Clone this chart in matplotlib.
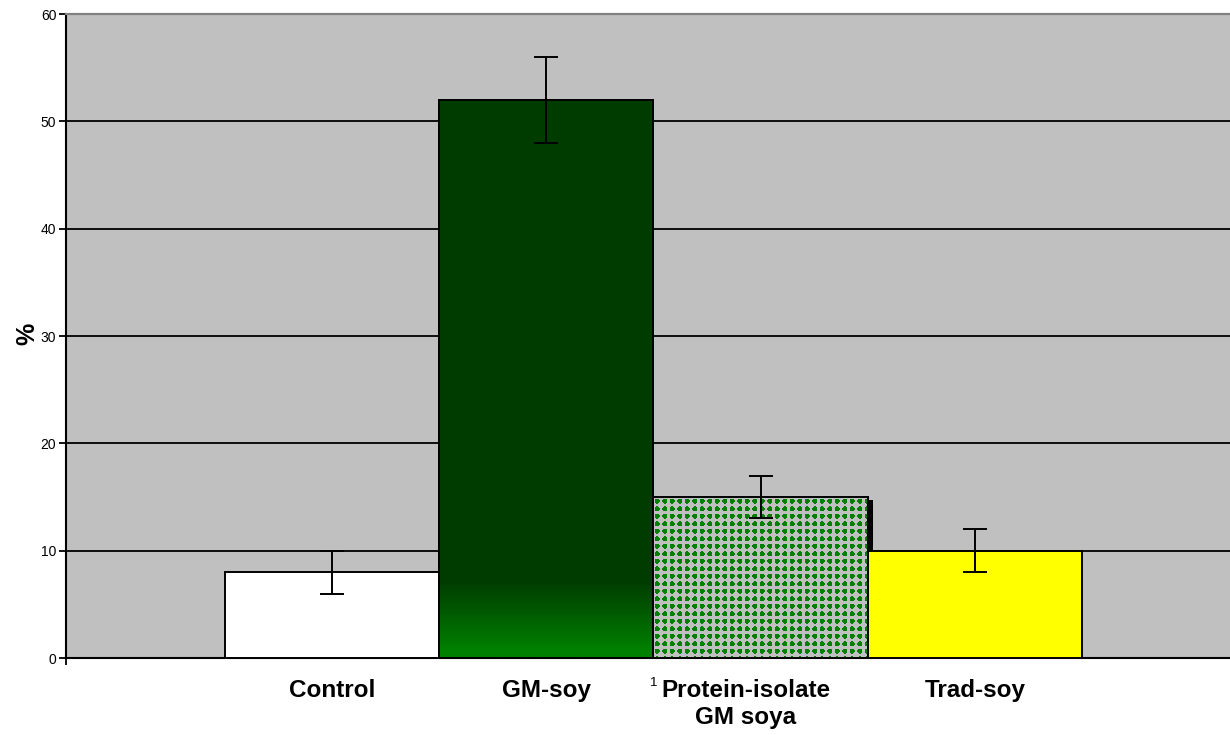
import numpy as np
import matplotlib
matplotlib.use("Agg")
import matplotlib.pyplot as plt
import matplotlib.patheffects as pe
from matplotlib.colors import LinearSegmentedColormap

plt.rcParams['font.family'] = ['Liberation Sans', 'DejaVu Sans']

# Data
groups = ["Control", "GM-soy", "Protein-isolate\nGM soya", "Trad-soy"]
values = [8, 52, 15, 10]
errors = [2, 4, 2, 2]
category = ["1"]

fig = plt.figure(figsize=(12.3, 7.35), dpi=100)
ax = fig.add_axes([66 / 1230, 77 / 735, 1164 / 1230, 644 / 735])
ax.set_facecolor("#C0C0C0")

# one category with four adjacent bars
pos = np.arange(len(values)) - (len(values) - 1) / 2
face = ["white", "#003C00", "#C0C0C0", "#FFFF00"]
bars = ax.bar(pos, values, width=1.0, color=face, edgecolor="black",
              linewidth=1.4, zorder=3)

ax.set_xlim(-2.742, 2.691)
ax.set_ylim(0, 60)

# shadow on the protein-isolate bar
bars[2].set_path_effects([pe.SimplePatchShadow(offset=(4, -2), shadow_rgbFace="black",
                                               alpha=1.0), pe.Normal()])
bars[3].set_zorder(3.5)

# gradient fill for GM-soy
gm = bars[1]
x0, w, h = gm.get_x(), gm.get_width(), gm.get_height()
yy = np.linspace(h, 0, 300)
grad = np.clip((7.0 - yy) / 6.3, 0, 1)[:, None]
cmap = LinearSegmentedColormap.from_list("g", ["#003C00", "#008000"])
im = ax.imshow(grad, extent=(x0, x0 + w, 0, h), aspect="auto", cmap=cmap,
               vmin=0, vmax=1, zorder=3.2, interpolation="bilinear")
im.set_clip_path(gm)
ax.add_patch(plt.Rectangle((x0, 0), w, h, fill=False, edgecolor="black",
                           linewidth=1.4, zorder=3.3))

# dotted pattern for protein-isolate
pb = bars[2]
px0, pw, ph = pb.get_x(), pb.get_width(), pb.get_height()
npx_w, npx_h = 215, 161
ii, jj = np.indices((npx_h, npx_w)).astype(float)
dx = (jj % 7.5) - 3.75
dy = (ii % 7.5) - 3.75
dots = (dx ** 2 + dy ** 2) < 6.5
pat = np.ones((npx_h, npx_w, 3)) * (192 / 255)
pat[dots] = [0, 128 / 255, 0]
im2 = ax.imshow(pat, extent=(px0, px0 + pw, 0, ph), aspect="auto", zorder=3.2,
                interpolation="nearest")
im2.set_clip_path(pb)
ax.add_patch(plt.Rectangle((px0, 0), pw, ph, fill=False, edgecolor="black",
                           linewidth=1.4, zorder=3.3))

ax.errorbar(pos, values, yerr=errors, fmt="none", ecolor="black", elinewidth=1.4,
            capsize=8.3, capthick=1.4, zorder=5)

# grid and axes
ax.set_yticks(np.arange(0, 61, 10))
ax.yaxis.grid(True, color="black", linewidth=1.3, zorder=1)
ax.set_axisbelow(True)
ax.spines["top"].set_color("#808080")
ax.spines["top"].set_linewidth(1.6)
ax.spines["right"].set_visible(False)
ax.spines["left"].set_linewidth(1.5)
ax.spines["bottom"].set_linewidth(1.5)
ax.tick_params(axis="y", direction="out", length=5, width=1.3, labelsize=10, pad=2)
ax.set_xticks([0])
ax.set_xticklabels(category, fontsize=9.5)
ax.tick_params(axis="x", length=0, pad=14)
ax.set_xticks([-2.742], minor=True)
ax.tick_params(axis="x", which="minor", length=5, width=1.3)

ax.set_ylabel("%", fontsize=18, fontweight="bold")
ax.yaxis.set_label_coords(-0.023, 0.503)

# group labels under bars
tr = ax.get_xaxis_transform()
offs = [0, 0, -0.07, 0]
for p, g, o in zip(pos, groups, offs):
    ax.text(p + o, -0.033, g, transform=tr, ha="center", va="top", fontsize=17.5,
            fontweight="bold", linespacing=1.22, clip_on=False)

fig.savefig("out.png", dpi=100)
